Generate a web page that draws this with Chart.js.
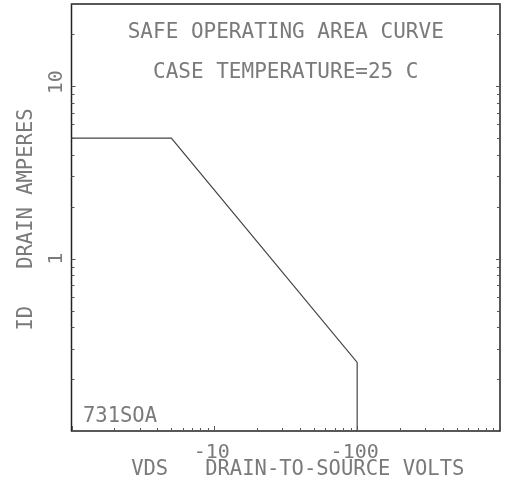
<!DOCTYPE html>
<html>
<head>
<meta charset="utf-8">
<script src="https://cdn.jsdelivr.net/npm/chart.js@4"></script>
<style>
    body { margin: 0; background: #fff; }
    #wrap { width: 505px; height: 491px; }
</style>
</head>
<body>
<div id="wrap"><canvas id="soaChart" width="505" height="491"></canvas></div>
<script>
// Curve points: drain-to-source volts (magnitude) and drain amperes
var vds = [1, 5, 100, 100];
var drainAmps = [5, 5, 0.25, 0.1];

// Axis ranges and labelled ticks
var xRange = [1, 1000];
var yRange = [0.1, 30];
var xTickValues = [10, 100];
var xTickLabels = ["-10", "-100"];
var yTickValues = [1, 10];
var yTickLabels = ["1", "10"];

// Texts
var titleLines = ["SAFE OPERATING AREA CURVE", "CASE TEMPERATURE=25 C"];
var xTitle = "VDS   DRAIN-TO-SOURCE VOLTS";
var yTitle = "ID   DRAIN AMPERES";
var partLabel = "731SOA";

var textFont = "'DejaVu Sans Mono', monospace";
var textColor = "#7a7a7a";

// 1..9 in each decade, for the little tick marks on the frame
function logTicks(scale) {
    var out = [];
    for (var e = Math.floor(Math.log10(scale.min)); e <= Math.ceil(Math.log10(scale.max)); e++) {
        for (var k = 1; k <= 9; k++) {
            var v = Math.round(k * Math.pow(10, e) * 1e6) / 1e6;
            if (v >= scale.min && v <= scale.max) out.push({ value: v });
        }
    }
    scale.ticks = out;
}

function isDecade(v) {
    var l = Math.log10(v);
    return Math.abs(l - Math.round(l)) < 1e-9;
}

// Frame, tick marks and all texts
var framePlugin = {
    id: "frame",
    afterDraw: function (chart) {
        var ctx = chart.ctx;
        var a = chart.chartArea;
        var x = chart.scales.x;
        var y = chart.scales.y;
        ctx.save();

        // frame
        ctx.strokeStyle = "#222";
        ctx.lineWidth = 1.5;
        ctx.strokeRect(a.left, a.top, a.right - a.left, a.bottom - a.top);

        // tick marks
        ctx.lineWidth = 1;
        ctx.strokeStyle = "#555";
        ctx.beginPath();
        x.ticks.forEach(function (t) {
            var px = Math.round(x.getPixelForValue(t.value)) + 0.5;
            var len = isDecade(t.value) ? 5 : 3;
            ctx.moveTo(px, a.bottom);
            ctx.lineTo(px, a.bottom - len);
        });
        y.ticks.forEach(function (t) {
            var py = Math.round(y.getPixelForValue(t.value)) + 0.5;
            var len = isDecade(t.value) ? 4 : 3;
            ctx.moveTo(a.left, py);
            ctx.lineTo(a.left + len, py);
            ctx.moveTo(a.right, py);
            ctx.lineTo(a.right - len, py);
        });
        ctx.stroke();

        ctx.fillStyle = textColor;
        ctx.textBaseline = "alphabetic";
        var cx = (a.left + a.right) / 2;

        // titles inside the plot
        ctx.textAlign = "center";
        ctx.font = "21px " + textFont;
        ctx.fillText(titleLines[0], cx, a.top + 33.5);
        ctx.fillText(titleLines[1], cx, a.top + 73.5);

        // part number
        ctx.textAlign = "left";
        ctx.font = "20.5px " + textFont;
        ctx.fillText(partLabel, a.left + 11.5, a.bottom - 9);

        // x tick labels
        ctx.textAlign = "center";
        ctx.font = "20px " + textFont;
        xTickValues.forEach(function (v, i) {
            ctx.fillText(xTickLabels[i], x.getPixelForValue(v) - 2.5, a.bottom + 27);
        });

        // x title
        ctx.font = "20.5px " + textFont;
        ctx.fillText(xTitle, cx + 12, a.bottom + 44);

        // y tick labels (rotated)
        ctx.font = "20px " + textFont;
        yTickValues.forEach(function (v, i) {
            var py = y.getPixelForValue(v);
            ctx.save();
            ctx.translate(a.left - 10, py - (yTickLabels[i].length > 1 ? 4 : 0));
            ctx.rotate(-Math.PI / 2);
            ctx.fillText(yTickLabels[i], 0, 0);
            ctx.restore();
        });

        // y title (rotated)
        ctx.font = "20.5px " + textFont;
        ctx.save();
        ctx.translate(a.left - 40, (a.top + a.bottom) / 2 + 2);
        ctx.rotate(-Math.PI / 2);
        ctx.fillText(yTitle, 0, 0);
        ctx.restore();

        ctx.restore();
    }
};

window.onload = function () {
    var ctx = document.getElementById("soaChart").getContext("2d");

    var points = vds.map(function (v, i) {
        return { x: v, y: drainAmps[i] };
    });

    var soaChart = new Chart(ctx, {
        type: "line",
        data: {
            datasets: [{
                label: "SOA",
                data: points,
                borderColor: "#444",
                borderWidth: 1.2,
                pointRadius: 0,
                tension: 0,
                fill: false
            }]
        },
        options: {
            responsive: false,
            animation: false,
            devicePixelRatio: 1,
            layout: { padding: { left: 71.5, top: 4, right: 5, bottom: 60 } },
            plugins: {
                legend: { display: false },
                tooltip: { enabled: false }
            },
            scales: {
                x: {
                    type: "logarithmic",
                    min: xRange[0],
                    max: xRange[1],
                    afterBuildTicks: logTicks,
                    ticks: { display: false },
                    grid: { display: false, drawTicks: false },
                    border: { display: false }
                },
                y: {
                    type: "logarithmic",
                    min: yRange[0],
                    max: yRange[1],
                    afterBuildTicks: logTicks,
                    ticks: { display: false },
                    grid: { display: false, drawTicks: false },
                    border: { display: false }
                }
            }
        },
        plugins: [framePlugin]
    });
};
</script>
</body>
</html>
